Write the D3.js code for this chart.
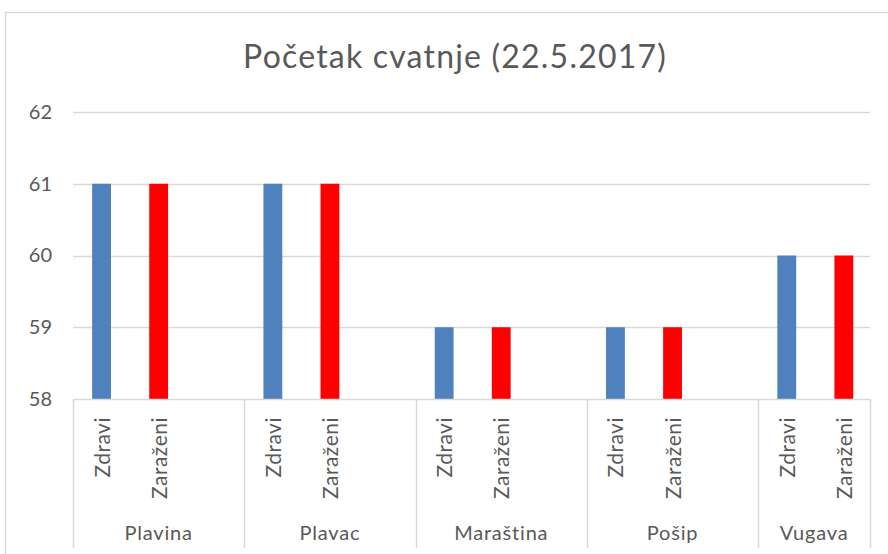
<!DOCTYPE html>
<html><head><meta charset="utf-8">
<script src="https://cdn.jsdelivr.net/npm/d3@7"></script>
<style>body{margin:0;background:#fff;}svg{display:block;}</style>
</head><body>
<svg id="chart" width="888" height="554"></svg>
<script>
const title = "Početak cvatnje (22.5.2017)";
const categories = ["Plavina", "Plavac", "Maraština", "Pošip", "Vugava"];
const subCategories = ["Zdravi", "Zaraženi"];
const zdravi = [61, 61, 59, 59, 60];
const zarazeni = [61, 61, 59, 59, 60];
const yTicks = [58, 59, 60, 61, 62];
const seriesColors = ["#4f81bd", "#ff0000"];

const svg = d3.select("#chart");
const textColor = "#595959";
const gridColor = "#d9d9d9";
const font = "Lato, 'Open Sans', sans-serif";

const plotLeft = 73, plotRight = 870, plotTop = 112, plotBottom = 399;
const step = 171.3;

// chart border
svg.append("rect").attr("x", 5.5).attr("y", 12.5).attr("width", 920).attr("height", 600)
  .attr("fill", "none").attr("stroke", gridColor).attr("stroke-width", 1.5);

svg.append("text").attr("x", 455).attr("y", 68).attr("text-anchor", "middle")
  .attr("font-family", font).attr("font-size", 32).attr("letter-spacing", 1.2)
  .attr("fill", textColor).text(title);

const y = d3.scaleLinear().domain([58, 62]).range([plotBottom, plotTop]);
const x0 = d3.scaleBand().domain(categories).range([plotLeft, plotLeft + step * categories.length]).padding(0);
const slots = [...subCategories, ""];
const x1 = d3.scaleBand().domain(slots).range([0, x0.bandwidth()]).padding(0);
const barW = x1.bandwidth() * 0.33;

// gridlines
svg.append("g").selectAll("line").data(yTicks.filter(t => t !== 58)).join("line")
  .attr("x1", plotLeft).attr("x2", plotRight)
  .attr("y1", d => Math.round(y(d)) + 0.5).attr("y2", d => Math.round(y(d)) + 0.5)
  .attr("stroke", gridColor).attr("stroke-width", 1.5);

// y tick labels
const yAxis = d3.axisLeft(y).tickValues(yTicks).tickFormat(d3.format("d")).tickSize(0).tickPadding(21);
const ya = svg.append("g").attr("transform", `translate(${plotLeft},0)`).call(yAxis);
ya.select(".domain").remove();
ya.selectAll("text").attr("font-family", font).attr("font-size", 20).attr("fill", textColor);

// bars
const seriesData = [zdravi, zarazeni];
categories.forEach((c, i) => {
  seriesData.forEach((s, j) => {
    svg.append("rect")
      .attr("x", x0(c) + x1(subCategories[j]) + (x1.bandwidth() - barW) / 2)
      .attr("y", y(s[i]))
      .attr("width", barW)
      .attr("height", y(58) - y(s[i]))
      .attr("fill", seriesColors[j]);
  });
});

// x axis baseline and dividers
const axisBottom = 548;
svg.append("line").attr("x1", plotLeft).attr("x2", plotRight)
  .attr("y1", plotBottom + 0.5).attr("y2", plotBottom + 0.5).attr("stroke", gridColor).attr("stroke-width", 1.5);
const dividers = categories.map(c => x0(c)).concat([plotRight]);
svg.append("g").selectAll("line").data(dividers).join("line")
  .attr("x1", d => Math.round(d) + 0.5).attr("x2", d => Math.round(d) + 0.5)
  .attr("y1", plotBottom).attr("y2", axisBottom)
  .attr("stroke", gridColor).attr("stroke-width", 1.5);

// sub category labels (rotated)
categories.forEach(c => {
  subCategories.forEach(sc => {
    const cx = x0(c) + x1(sc) + x1.bandwidth() / 2;
    svg.append("text")
      .attr("transform", `translate(${cx + 8},${plotBottom + 18}) rotate(-90)`)
      .attr("text-anchor", "end")
      .attr("font-family", font).attr("font-size", 21).attr("letter-spacing", 0.5)
      .attr("fill", textColor)
      .text(sc);
  });
});

// category labels
categories.forEach((c, i) => {
  const left = x0(c);
  const right = Math.min(x0(c) + x0.bandwidth(), plotRight);
  svg.append("text").attr("x", (left + right) / 2).attr("y", 540)
    .attr("text-anchor", "middle").attr("font-family", font).attr("font-size", 20)
    .attr("letter-spacing", 0.8)
    .attr("fill", textColor).text(c);
});
</script>
</body></html>
